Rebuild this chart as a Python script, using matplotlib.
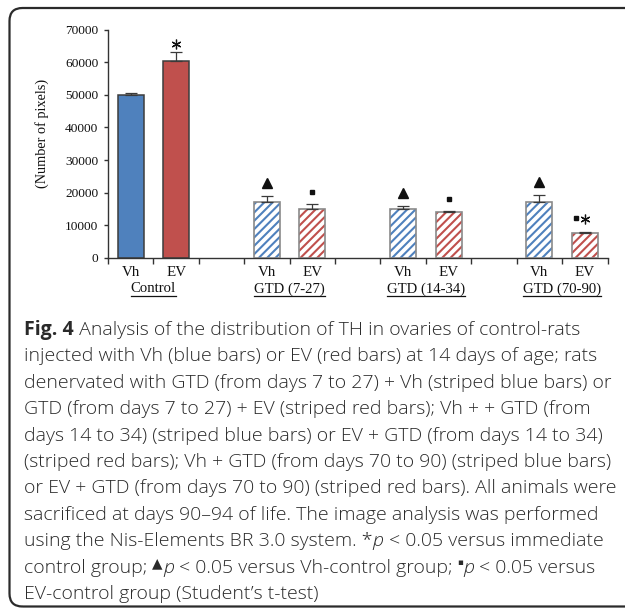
import matplotlib
matplotlib.use('Agg')
import matplotlib.pyplot as plt
import matplotlib.transforms as mtransforms
from matplotlib.patches import FancyBboxPatch
from matplotlib.lines import Line2D
from matplotlib import font_manager

# ---------------- data ----------------
groups = ['Control', 'GTD (7-27)', 'GTD (14-34)', 'GTD (70-90)']
bar_labels = ['Vh', 'EV']
vh_values = [49900, 17100, 14950, 17250]
ev_values = [60450, 14950, 14000, 7650]
vh_err = [550, 2000, 900, 2150]
ev_err = [2550, 1700, 500, 450]
vh_marks = ['', 'triangle', 'triangle', 'triangle']
ev_marks = ['star', 'square', 'square', 'square+star']
yticks = [0, 10000, 20000, 30000, 40000, 50000, 60000, 70000]
ylabel = '(Number of pixels)'

caption_lines = [
    [('Fig. 4', 'b'), (' Analysis of the distribution of TH in ovaries of control-rats', 'r')],
    [('injected with Vh (blue bars) or EV (red bars) at 14 days of age; rats', 'r')],
    [('denervated with GTD (from days 7 to 27) + Vh (striped blue bars) or', 'r')],
    [('GTD (from days 7 to 27) + EV (striped red bars); Vh + + GTD (from', 'r')],
    [('days 14 to 34) (striped blue bars) or EV + GTD (from days 14 to 34)', 'r')],
    [('(striped red bars); Vh + GTD (from days 70 to 90) (striped blue bars)', 'r')],
    [('or EV + GTD (from days 70 to 90) (striped red bars). All animals were', 'r')],
    [('sacrificed at days 90\u201394 of life. The image analysis was performed', 'r')],
    [('using the Nis-Elements BR 3.0 system. *', 'r'), ('p', 'i'), (' < 0.05 versus immediate', 'r')],
    [('control group; ', 'r'), ('\u25B2', 's'), ('p', 'i'), (' < 0.05 versus Vh-control group; ', 'r'),
     ('\u25AA', 'q'), ('p', 'i'), (' < 0.05 versus', 'r')],
    [('EV-control group (Student\u2019s t-test)', 'r')],
]

# ---------------- style ----------------
BLUE = '#4F81BD'
RED = '#C0504D'
W, H = 625, 609
plt.rcParams['font.family'] = ['Liberation Serif', 'DejaVu Serif']
plt.rcParams['hatch.linewidth'] = 1.5
SERIF_SIZE = 10.3

fig = plt.figure(figsize=(W / 100, H / 100), dpi=100)

# rounded frame (extends past right edge)
frame = FancyBboxPatch((9.5, 2.5), 800, 598.5, boxstyle='round,pad=0,rounding_size=13',
                       transform=mtransforms.IdentityTransform(), fill=False,
                       edgecolor='#2b2b2b', linewidth=1.6)
fig.patches.append(frame)

ax_left, ax_right = 108 / W, 607.5 / W
ax_bottom, ax_top = (H - 258) / H, (H - 29.5) / H
ax = fig.add_axes([ax_left, ax_bottom, ax_right - ax_left, ax_top - ax_bottom])

n_slots = 3 * len(groups) - 1
bw = 0.57
for g in range(len(groups)):
    xv, xe = 3 * g + 0.5, 3 * g + 1.5
    if g == 0:
        ax.bar(xv, vh_values[g], bw, color=BLUE, edgecolor='#3d3d3d', linewidth=1.1, zorder=2)
        ax.bar(xe, ev_values[g], bw, color=RED, edgecolor='#3d3d3d', linewidth=1.1, zorder=2)
    else:
        for x, v, c in ((xv, vh_values[g], BLUE), (xe, ev_values[g], RED)):
            ax.bar(x, v, bw, color='white', edgecolor=c, hatch='////', linewidth=0, zorder=2)
            ax.bar(x, v, bw, fill=False, edgecolor='#8a8a8a', linewidth=1.2, zorder=3)
    for x, v, e in ((xv, vh_values[g], vh_err[g]), (xe, ev_values[g], ev_err[g])):
        ax.errorbar(x, v, yerr=[[0], [e]], fmt='none', ecolor='#3a3a3a', elinewidth=0.9,
                    capsize=4, capthick=0.9, zorder=4)

def off(dx, dy):
    return mtransforms.offset_copy(ax.transData, fig=fig, x=dx, y=dy, units='dots')

MK = '#111111'
for g in range(len(groups)):
    xv, xe = 3 * g + 0.5, 3 * g + 1.5
    tv = vh_values[g] + vh_err[g]
    te = ev_values[g] + ev_err[g]
    if vh_marks[g] == 'triangle':
        ax.plot([xv], [tv], marker='^', ms=7, color=MK, transform=off(0, 13),
                clip_on=False, zorder=5)
    m = ev_marks[g]
    if m == 'star':
        ax.plot([xe], [te], marker=(6, 2, 0), ms=7, mew=0.9, color=MK,
                transform=off(0, 8), clip_on=False, zorder=5)
    elif m == 'square':
        ax.plot([xe], [te], marker='s', ms=3.4, color=MK, transform=off(0, 12),
                clip_on=False, zorder=5)
    elif m == 'square+star':
        ax.plot([xe], [te], marker='s', ms=3.4, color=MK, transform=off(-8.5, 14),
                clip_on=False, zorder=5)
        ax.plot([xe], [te], marker=(6, 2, 0), ms=7, mew=0.9, color=MK,
                transform=off(0, 13), clip_on=False, zorder=5)

ax.set_xlim(0, n_slots)
ax.set_ylim(0, 70000)
ax.set_yticks(yticks)
ax.set_yticklabels([str(t) for t in yticks])
ax.set_xticks(range(n_slots + 1))
ax.set_xticklabels([])
centers = []
for g in range(len(groups)):
    centers += [3 * g + 0.5, 3 * g + 1.5]
ax.set_xticks(centers, minor=True)
ax.set_xticklabels(bar_labels * len(groups), minor=True)
ax.tick_params(axis='x', which='minor', length=0, pad=5.5, labelsize=SERIF_SIZE + 0.5, labelcolor='#111111')
ax.tick_params(axis='x', which='major', length=4, width=1, color='#333333', direction='out')
ax.tick_params(axis='y', length=3, width=1, color='#333333', direction='out', pad=4,
               labelsize=9.6, labelcolor='#111111')
for s in ('top', 'right'):
    ax.spines[s].set_visible(False)
for s in ('left', 'bottom'):
    ax.spines[s].set_color('#333333')
    ax.spines[s].set_linewidth(1.0)

fig.text(42 / W, 1 - 133 / H, ylabel, rotation=90, ha='center', va='center',
         fontsize=SERIF_SIZE, color='#111111')

# group labels with underline
fig.canvas.draw()
renderer = fig.canvas.get_renderer()
for g, name in enumerate(groups):
    xc = 3 * g + 1
    xpix = ax.transData.transform((xc, 0))[0]
    t = fig.text(xpix / W, 1 - 289 / H, name, ha='center', va='center',
                 fontsize=SERIF_SIZE + 0.3, color='#111111')
    bb = t.get_window_extent(renderer)
    uy = H - 295.5
    fig.lines.append(Line2D([bb.x0, bb.x1], [uy, uy], transform=mtransforms.IdentityTransform(),
                            color='#111111', linewidth=0.9))

# ---------------- caption ----------------
CAP_FAM = ['Open Sans', 'DejaVu Sans']
CAP_COLOR = '#2a2a2a'
light_ok = any(f.name == 'Open Sans' and f.weight in (300, 'light') for f in font_manager.fontManager.ttflist)
REG_W = 'light' if light_ok else 'normal'

def props(style, size):
    if style == 'b':
        return dict(family=CAP_FAM, fontweight='bold', fontsize=size)
    if style == 'i':
        return dict(family=CAP_FAM, fontstyle='italic', fontweight=REG_W, fontsize=size)
    if style == 's':
        return dict(family=['DejaVu Sans'], fontsize=size * 0.7)
    if style == 'q':
        return dict(family=['DejaVu Sans'], fontsize=size * 0.45)
    return dict(family=CAP_FAM, fontweight=REG_W, fontsize=size)

def seg_width(s, p):
    t = fig.text(0, 0, '|' + s + '|', **p)
    w1 = t.get_window_extent(renderer).width
    t.set_text('||')
    w2 = t.get_window_extent(renderer).width
    t.remove()
    return w1 - w2

# fit font size so first line spans the measured width
target = 578 - 24
base = 10.0
w0 = sum(seg_width(s, props(st, base)) for s, st in caption_lines[0])
cap_size = base * target / w0

x0 = 24
first_base = 335
spacing = 26.4
for i, line in enumerate(caption_lines):
    x = x0
    yb = H - (first_base + i * spacing)
    for s, st in line:
        p = props(st, cap_size)
        dy = {'s': 5, 'q': 8}.get(st, 0)
        fig.text(x / W, (yb + dy) / H, s, ha='left', va='baseline', color=CAP_COLOR, **p)
        x += seg_width(s, p)

fig.savefig('out.png', dpi=100)
